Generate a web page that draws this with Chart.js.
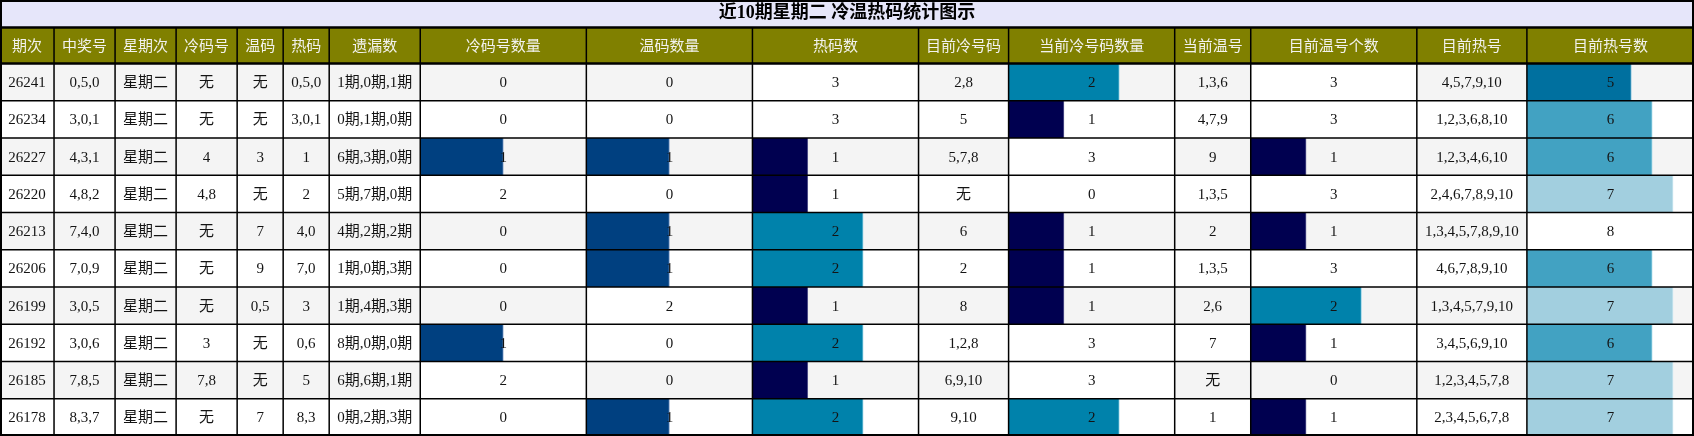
<!DOCTYPE html>
<html>
<head>
<meta charset="utf-8">
<title>近10期星期二 冷温热码统计图示</title>
<script src="https://cdn.jsdelivr.net/npm/chart.js@4.4.1/dist/chart.umd.min.js"></script>
<style>
  html, body { margin: 0; padding: 0; background: #fff; }
  canvas { display: block; }
</style>
</head>
<body>
<canvas id="chart-1" width="1694" height="436"></canvas>
<script>
const ctx1 = document.getElementById('chart-1');

var periods = ['26241', '26234', '26227', '26220', '26213', '26206', '26199', '26192', '26185', '26178'];
var winNumbers = ['0,5,0', '3,0,1', '4,3,1', '4,8,2', '7,4,0', '7,0,9', '3,0,5', '3,0,6', '7,8,5', '8,3,7'];
var weekdays = ['星期二', '星期二', '星期二', '星期二', '星期二', '星期二', '星期二', '星期二', '星期二', '星期二'];
var coldCodes = ['无', '无', '4', '4,8', '无', '无', '无', '3', '7,8', '无'];
var warmCodes = ['无', '无', '3', '无', '7', '9', '0,5', '无', '无', '7'];
var hotCodes = ['0,5,0', '3,0,1', '1', '2', '4,0', '7,0', '3', '0,6', '5', '8,3'];
var missing = ['1期,0期,1期', '0期,1期,0期', '6期,3期,0期', '5期,7期,0期', '4期,2期,2期',
               '1期,0期,3期', '1期,4期,3期', '8期,0期,0期', '6期,6期,1期', '0期,2期,3期'];
var coldCount = [0, 0, 1, 2, 0, 0, 0, 1, 2, 0];
var warmCount = [0, 0, 1, 0, 1, 1, 2, 0, 0, 1];
var hotCount = [3, 3, 1, 1, 2, 2, 1, 2, 1, 2];
var curCold = ['2,8', '5', '5,7,8', '无', '6', '2', '8', '1,2,8', '6,9,10', '9,10'];
var curColdCount = [2, 1, 3, 0, 1, 1, 1, 3, 3, 2];
var curWarm = ['1,3,6', '4,7,9', '9', '1,3,5', '2', '1,3,5', '2,6', '7', '无', '1'];
var curWarmCount = [3, 3, 1, 3, 1, 3, 2, 1, 0, 1];
var curHot = ['4,5,7,9,10', '1,2,3,6,8,10', '1,2,3,4,6,10', '2,4,6,7,8,9,10', '1,3,4,5,7,8,9,10',
              '4,6,7,8,9,10', '1,3,4,5,7,9,10', '3,4,5,6,9,10', '1,2,3,4,5,7,8', '2,3,4,5,6,7,8'];
var curHotCount = [5, 6, 6, 7, 8, 6, 7, 6, 7, 7];

// table columns: header, relative width, and either text or bar values
var columns = [
    { title: '期次', width: 54, text: periods },
    { title: '中奖号', width: 61, text: winNumbers },
    { title: '星期次', width: 61, text: weekdays },
    { title: '冷码号', width: 61, text: coldCodes },
    { title: '温码', width: 46, text: warmCodes },
    { title: '热码', width: 46, text: hotCodes },
    { title: '遗漏数', width: 91, text: missing },
    { title: '冷码号数量', width: 166, values: coldCount },
    { title: '温码数量', width: 166, values: warmCount },
    { title: '热码数', width: 166, values: hotCount },
    { title: '目前冷号码', width: 90, text: curCold },
    { title: '当前冷号码数量', width: 166, values: curColdCount },
    { title: '当前温号', width: 76, text: curWarm },
    { title: '目前温号个数', width: 166, values: curWarmCount },
    { title: '目前热号', width: 110, text: curHot },
    { title: '目前热号数', width: 167, values: curHotCount }
];

// bar shade by share of the column maximum; a full bar is white
var shades = [
    [0.34, '#000050', '#5a5a90'],
    [0.5, '#004080', '#7090c0'],
    [0.63, '#00709f', '#80c0dc'],
    [0.67, '#0082ab', '#90d0e4'],
    [0.75, '#42a2c2', '#a0d8e8'],
    [0.88, '#a2cfdf', '#d0eaf2'],
    [1.01, '#ffffff', '#ffffff']
];
function shadeFor(c, idx) {
    var f = c.raw / c.dataset.colMax;
    for (var k = 0; k < shades.length; k++) {
        if (f <= shades[k][0]) return shades[k][idx];
    }
    return '#ffffff';
}

var bodyFont = "15px 'Liberation Serif', 'Noto Sans CJK SC', serif";

var scales = {
    y: { type: 'category', display: false, offset: true }
};
var datasets = [];
// top axes in a stack are laid out last-first, so add them in reverse
for (let i = columns.length - 1; i >= 0; i--) {
    const col = columns[i];
    const id = 'x' + i;
    const max = col.values ? Math.max.apply(null, col.values) : 1;
    scales[id] = {
        type: 'linear',
        position: 'top',
        stack: 'table',
        stackWeight: col.width,
        min: 0,
        max: max,
        grid: { display: false, drawTicks: false },
        border: { display: false },
        ticks: { display: false },
        title: {
            display: true,
            text: col.title,
            color: '#f2f2ee',
            font: { family: "'Noto Sans CJK SC', sans-serif", size: 15 },
            padding: { top: 9, bottom: 9 }
        }
    };
}
columns.forEach(function (col, i) {
    if (!col.values) return;
    datasets.push({
        label: col.title,
        data: col.values,
        colMax: scales['x' + i].max,
        xAxisID: 'x' + i,
        yAxisID: 'y',
        grouped: false,
        barPercentage: 1,
        categoryPercentage: 1,
        backgroundColor: function (c) { return shadeFor(c, 1); },
        borderColor: function (c) { return shadeFor(c, 2); },
        borderWidth: { top: 0, right: 1, bottom: 0, left: 0 },
        borderSkipped: false
    });
});

const tablePlugin = {
    id: 'tableCells',
    beforeDraw(chart) {
        const c = chart.ctx;
        const head = chart.scales.x0;
        c.save();
        c.fillStyle = '#ffffff';
        c.fillRect(0, 0, chart.width, chart.height);
        c.fillStyle = '#e6e6fa';
        c.fillRect(0, 0, chart.width, head.top);
        c.fillStyle = '#808000';
        c.fillRect(0, head.top, chart.width, head.bottom - head.top);
        c.restore();
    },
    beforeDatasetsDraw(chart) {
        const c = chart.ctx;
        const y = chart.scales.y;
        const step = y.height / periods.length;
        c.save();
        periods.forEach(function (p, r) {
            c.fillStyle = r % 2 === 0 ? '#f4f4f4' : '#ffffff';
            c.fillRect(chart.chartArea.left, y.getPixelForValue(r) - step / 2, chart.chartArea.width, step);
        });
        c.restore();
    },
    afterDatasetsDraw(chart) {
        const c = chart.ctx;
        const y = chart.scales.y;
        const step = y.height / periods.length;
        const head = chart.scales.x0;
        c.save();
        c.font = bodyFont;
        c.fillStyle = '#141414';
        c.textAlign = 'center';
        c.textBaseline = 'middle';
        columns.forEach(function (col, i) {
            const sc = chart.scales['x' + i];
            const cx = (sc.left + sc.right) / 2;
            const cells = col.values || col.text;
            cells.forEach(function (v, r) {
                c.fillText(String(v), cx, y.getPixelForValue(r) + 1);
            });
        });

        // grid lines
        c.strokeStyle = '#000000';
        c.lineWidth = 1.5;
        c.beginPath();
        for (let r = 1; r < periods.length; r++) {
            const yy = y.getPixelForValue(r) - step / 2;
            c.moveTo(0, yy);
            c.lineTo(chart.width, yy);
        }
        columns.forEach(function (col, i) {
            if (i === 0) return;
            const xx = chart.scales['x' + i].left;
            c.moveTo(xx, head.top);
            c.lineTo(xx, chart.height);
        });
        c.stroke();

        c.lineWidth = 2.5;
        c.beginPath();
        c.moveTo(0, head.top);
        c.lineTo(chart.width, head.top);
        c.moveTo(0, head.bottom);
        c.lineTo(chart.width, head.bottom);
        c.stroke();
        c.lineWidth = 2;
        c.strokeRect(1, 1, chart.width - 2, chart.height - 2);
        c.restore();
    }
};

new Chart(ctx1, {
    type: 'bar',
    data: {
        labels: periods,
        datasets: datasets
    },
    options: {
        indexAxis: 'y',
        responsive: false,
        animation: false,
        events: [],
        layout: { padding: 0 },
        scales: scales,
        plugins: {
            legend: { display: false },
            tooltip: { enabled: false },
            title: {
                display: true,
                text: '近10期星期二 冷温热码统计图示',
                color: '#000000',
                font: { family: "'Liberation Serif', 'Noto Sans CJK SC', serif", size: 18, weight: 'bold' },
                padding: { top: 3, bottom: 3 }
            }
        }
    },
    plugins: [tablePlugin]
});
</script>
</body>
</html>
